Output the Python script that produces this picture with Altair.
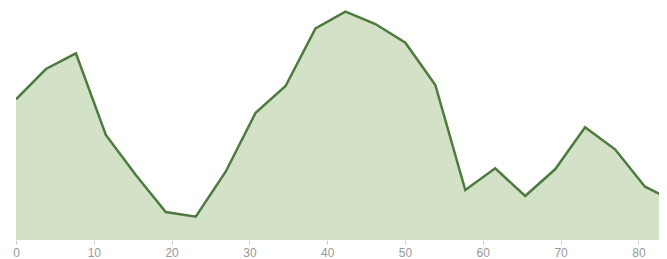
import altair as alt
import pandas as pd

x_values = [0, 3.85, 7.7, 11.55, 15.4, 19.25, 23.1, 26.95, 30.8, 34.65, 38.5, 42.35,
            46.2, 50.05, 53.9, 57.75, 61.6, 65.45, 69.3, 73.15, 77.0, 80.85, 84.7]
y_values = [140.7, 171, 186.7, 105, 65, 28, 23.3, 68.3, 127.3, 154, 211.7, 228.3,
            216, 197.3, 155, 50, 71.7, 44, 70.7, 112.7, 90.7, 53.3, 38.3]
x_ticks = [0, 10, 20, 30, 40, 50, 60, 70, 80]

df = pd.DataFrame({"x": x_values, "y": y_values})

xs = alt.Scale(domain=[0, 82.65], nice=False, zero=False)
ys = alt.Scale(domain=[0, 232], nice=False)

x_enc = alt.X("x:Q", scale=xs, axis=alt.Axis(
    values=x_ticks, title=None, grid=False, domain=False,
    tickSize=4, tickColor="#d0d0d0", labelColor="#999999", labelFontSize=12,
    labelFont="Liberation Sans", labelPadding=3, labelFlush=False))
y_enc = alt.Y("y:Q", scale=ys, axis=None)

area = alt.Chart(df).mark_area(color="#d3e1c6", opacity=1, clip=True).encode(x=x_enc, y=y_enc)
line = alt.Chart(df).mark_line(color="#4f7a3f", strokeWidth=2.5, clip=True).encode(x=x_enc, y=y_enc)

chart = alt.layer(area, line).properties(
    width=643, height=232,
    autosize=alt.AutoSizeParams(type="none"),
    padding={"left": 8, "top": 0, "right": 0, "bottom": 19},
).configure_view(stroke=None)

chart.save("out.html", embed_options={"renderer": "svg", "actions": False})
